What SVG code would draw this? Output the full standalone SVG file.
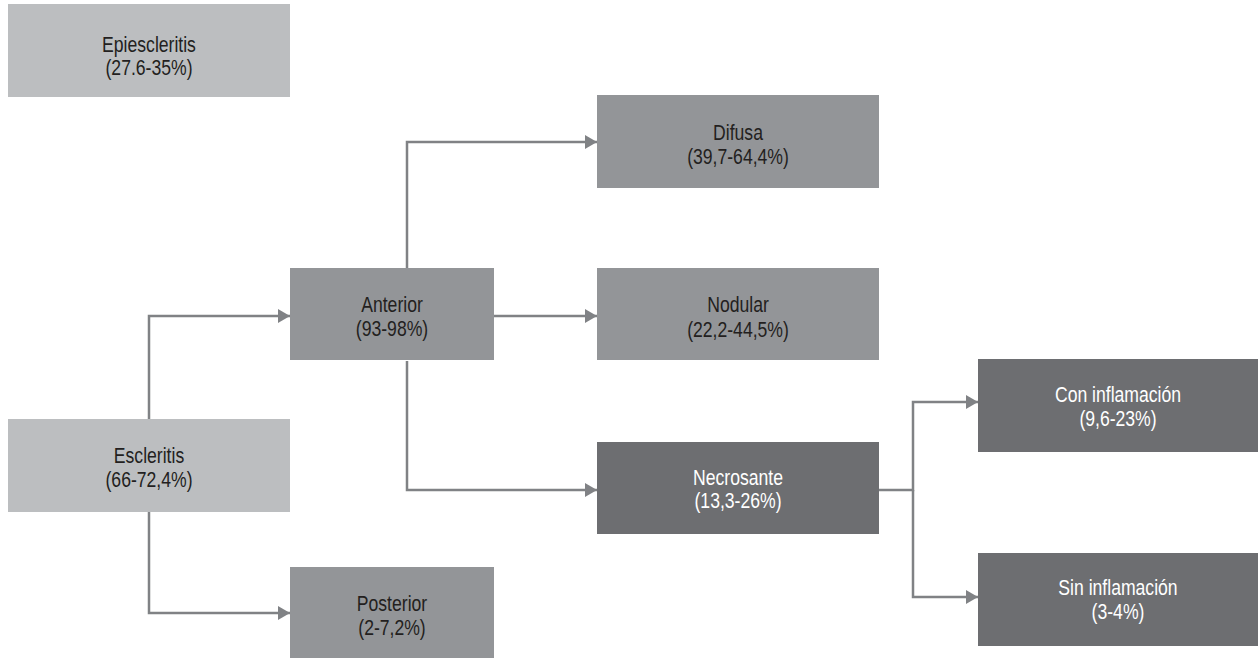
<svg xmlns="http://www.w3.org/2000/svg" width="1258" height="658" viewBox="0 0 1258 658">
<style>
.t{font-family:"Liberation Sans",Arial,sans-serif;font-size:22px;text-anchor:middle;fill:#231f20}
.w{fill:#ffffff}
.light{fill:#bcbec0}
.mid{fill:#939598}
.dark{fill:#6d6e71}
.c{fill:none;stroke:#808285;stroke-width:2.5}
</style>
<defs>
<marker id="ah" markerUnits="userSpaceOnUse" markerWidth="14" markerHeight="16" refX="12" refY="8" orient="auto">
<path d="M0,1 L12,8 L0,15 Z" fill="#808285"/>
</marker>
</defs>
<rect width="1258" height="658" fill="#ffffff"/>
<g id="connectors">
<path class="c" d="M149,419 V316 H290" marker-end="url(#ah)"/>
<path class="c" d="M149,512 V613 H290" marker-end="url(#ah)"/>
<path class="c" d="M407,268 V142 H597" marker-end="url(#ah)"/>
<path class="c" d="M494,316 H597" marker-end="url(#ah)"/>
<path class="c" d="M407,361 V490 H597" marker-end="url(#ah)"/>
<path class="c" d="M879,490 H913 V402 H978" marker-end="url(#ah)"/>
<path class="c" d="M913,490 V597 H978" marker-end="url(#ah)"/>
</g>
<g id="epiescleritis">
<rect class="light" x="8" y="4" width="282" height="93"/>
<g transform="translate(149 0) scale(0.8 1)">
<text class="t" x="0" y="52">Epiescleritis</text>
<text class="t" x="0" y="75">(27.6-35%)</text>
</g>
</g>
<g id="escleritis">
<rect class="light" x="8" y="419" width="282" height="93"/>
<g transform="translate(149 0) scale(0.8 1)">
<text class="t" x="0" y="463">Escleritis</text>
<text class="t" x="0" y="487">(66-72,4%)</text>
</g>
</g>
<g id="anterior">
<rect class="mid" x="290" y="268" width="204" height="92"/>
<g transform="translate(392 0) scale(0.8 1)">
<text class="t" x="0" y="312">Anterior</text>
<text class="t" x="0" y="336">(93-98%)</text>
</g>
</g>
<g id="posterior">
<rect class="mid" x="290" y="567" width="204" height="92"/>
<g transform="translate(392 0) scale(0.8 1)">
<text class="t" x="0" y="611">Posterior</text>
<text class="t" x="0" y="635">(2-7,2%)</text>
</g>
</g>
<g id="difusa">
<rect class="mid" x="597" y="95" width="282" height="93"/>
<g transform="translate(738 0) scale(0.8 1)">
<text class="t" x="0" y="140">Difusa</text>
<text class="t" x="0" y="164">(39,7-64,4%)</text>
</g>
</g>
<g id="nodular">
<rect class="mid" x="597" y="268" width="282" height="92"/>
<g transform="translate(738 0) scale(0.8 1)">
<text class="t" x="0" y="312">Nodular</text>
<text class="t" x="0" y="337">(22,2-44,5%)</text>
</g>
</g>
<g id="necrosante">
<rect class="dark" x="597" y="442" width="282" height="92"/>
<g transform="translate(738 0) scale(0.8 1)">
<text class="t w" x="0" y="485">Necrosante</text>
<text class="t w" x="0" y="508">(13,3-26%)</text>
</g>
</g>
<g id="con-inflamacion">
<rect class="dark" x="978" y="359" width="280" height="93"/>
<g transform="translate(1118 0) scale(0.8 1)">
<text class="t w" x="0" y="402">Con inflamación</text>
<text class="t w" x="0" y="426">(9,6-23%)</text>
</g>
</g>
<g id="sin-inflamacion">
<rect class="dark" x="978" y="553" width="280" height="93"/>
<g transform="translate(1118 0) scale(0.8 1)">
<text class="t w" x="0" y="595">Sin inflamación</text>
<text class="t w" x="0" y="619">(3-4%)</text>
</g>
</g>
</svg>
